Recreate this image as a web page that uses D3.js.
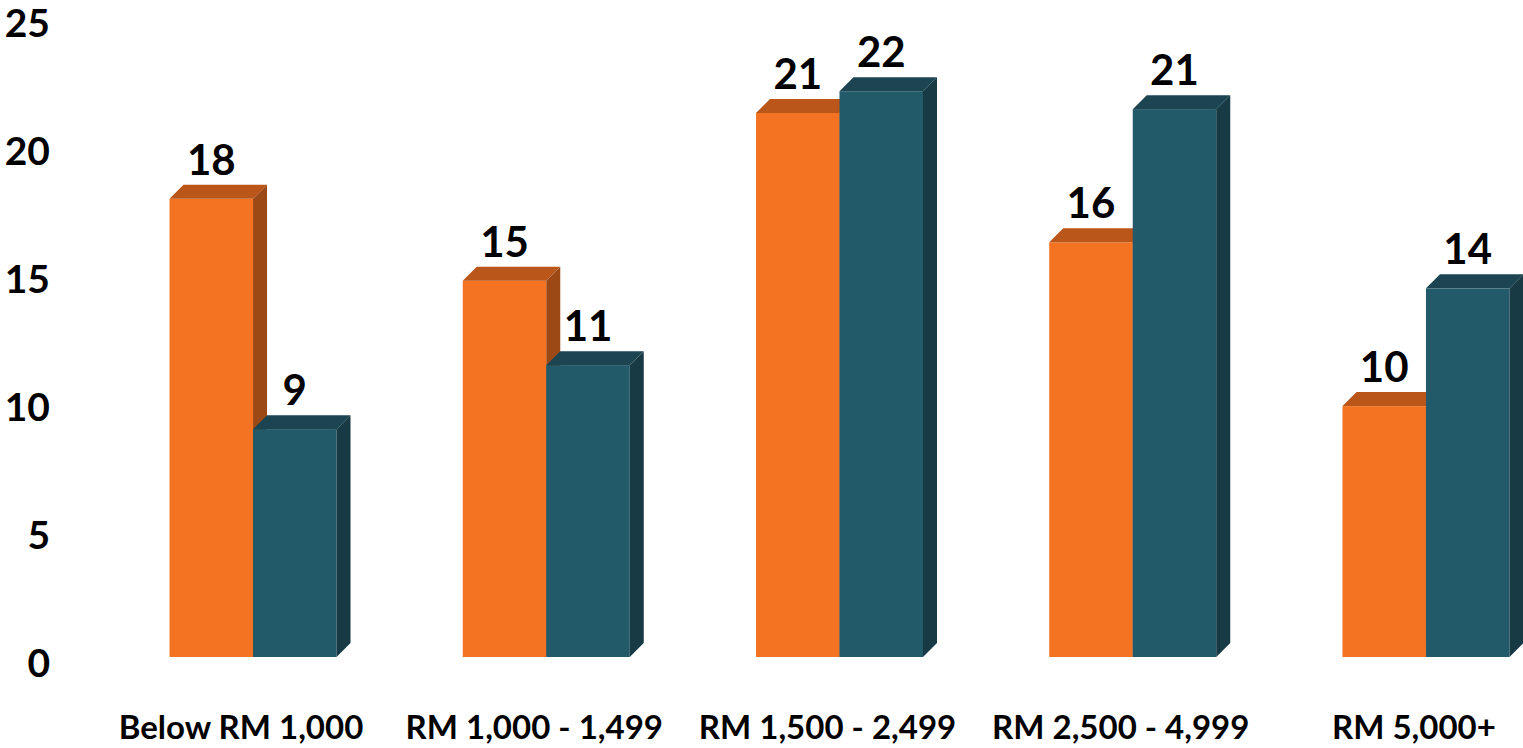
<!DOCTYPE html>
<html>
<head>
<meta charset="utf-8">
<script src="https://cdn.jsdelivr.net/npm/d3@7"></script>
<style>
  body { margin: 0; background: #fff; }
  svg { display: block; }
</style>
</head>
<body>
<div id="chart"></div>
<script>
// data (labels show the rounded values)
var categories = ["Below RM 1,000", "RM 1,000 - 1,499", "RM 1,500 - 2,499", "RM 2,500 - 4,999", "RM 5,000+"];
var seriesNames = ["orange", "teal"];
var orangeValues = [17.9, 14.7, 21.25, 16.2, 9.8];
var tealValues = [8.9, 11.4, 22.1, 21.4, 14.4];
var yTicks = [0, 5, 10, 15, 20, 25];

var svgWidth = 1523;
var svgHeight = 748;
var depth = 14;

var colors = {
  orange: { front: "#f37322", top: "#ba561a", side: "#9d4916" },
  teal: { front: "#225a69", top: "#1c4551", side: "#173a45" }
};

var svg = d3.select("#chart")
  .append("svg")
  .attr("width", svgWidth)
  .attr("height", svgHeight);

// scales
var yScale = d3.scaleLinear()
  .domain([0, 25])
  .range([657, 17]);

var xScale = d3.scaleBand()
  .domain(categories)
  .range([106.4, 1572.6])
  .paddingInner(1 - 167 / 293.25)
  .paddingOuter((1 - 167 / 293.25) / 2);

var xInner = d3.scaleBand()
  .domain(seriesNames)
  .range([0, xScale.bandwidth()]);

var data = categories.map(function(c, i) {
  return { cat: c, values: [
    { key: "orange", value: orangeValues[i] },
    { key: "teal", value: tealValues[i] }
  ]};
});

// y axis (labels only)
var leftAxis = d3.axisLeft(yScale)
  .tickValues(yTicks)
  .tickSize(0)
  .tickPadding(0);

var yAxisG = svg.append("g")
  .attr("transform", "translate(50, 7)")
  .call(leftAxis);
yAxisG.select(".domain").remove();
yAxisG.selectAll("text")
  .attr("font-family", "Lato, 'Open Sans', sans-serif")
  .attr("font-weight", "bold")
  .attr("font-size", "39px")
  .attr("fill", "#000");

// bars
var groups = svg.selectAll(".group")
  .data(data)
  .enter()
  .append("g")
  .attr("class", "group")
  .attr("transform", d => `translate(${xScale(d.cat)}, 0)`);

var bars = groups.selectAll(".bar")
  .data(d => d.values)
  .enter()
  .append("g")
  .attr("class", "bar");

var base = yScale(0);
var w = xInner.bandwidth();

bars.append("rect")
  .attr("x", d => xInner(d.key))
  .attr("y", d => yScale(d.value))
  .attr("width", w)
  .attr("height", d => base - yScale(d.value))
  .attr("fill", d => colors[d.key].front);

bars.append("polygon")
  .attr("points", d => {
    var x0 = xInner(d.key), yt = yScale(d.value);
    return [[x0, yt], [x0 + depth, yt - depth], [x0 + w + depth, yt - depth], [x0 + w, yt]].join(" ");
  })
  .attr("fill", d => colors[d.key].top);

bars.append("polygon")
  .attr("points", d => {
    var x1 = xInner(d.key) + w, yt = yScale(d.value);
    return [[x1, yt], [x1 + depth, yt - depth], [x1 + depth, base - depth], [x1, base]].join(" ");
  })
  .attr("fill", d => colors[d.key].side);

// value labels
bars.append("text")
  .attr("x", d => xInner(d.key) + w / 2)
  .attr("y", d => yScale(d.value) - depth - 10)
  .attr("text-anchor", "middle")
  .attr("font-family", "Lato, 'Open Sans', sans-serif")
  .attr("font-weight", "bold")
  .attr("font-size", "42px")
  .attr("fill", "#000")
  .text(d => d3.format(".0f")(d.value));

// category labels
svg.selectAll(".xlabel")
  .data(categories)
  .enter()
  .append("text")
  .attr("class", "xlabel")
  .attr("x", d => xScale(d) + xScale.bandwidth() / 2 - 12)
  .attr("y", 739)
  .attr("text-anchor", "middle")
  .attr("font-family", "Lato, 'Open Sans', sans-serif")
  .attr("font-weight", "bold")
  .attr("font-size", "33px")
  .attr("fill", "#000")
  .text(d => d);
</script>
</body>
</html>
